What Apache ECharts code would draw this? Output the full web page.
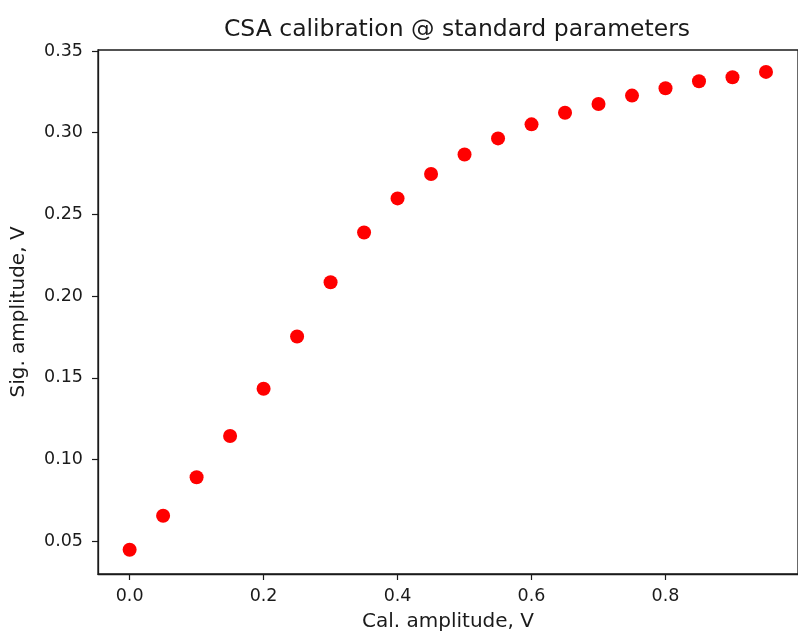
<!DOCTYPE html>
<html>
<head>
<meta charset="utf-8">
<script src="https://cdn.jsdelivr.net/npm/echarts@6/dist/echarts.min.js"></script>
<style>
  html, body { margin: 0; padding: 0; background: #fff; }
  #chart { width: 798px; height: 637px; }
</style>
</head>
<body>
<div id="chart"></div>
<script>
// calibration amplitude (V) vs measured signal amplitude (V)
var calAmp = [0.00, 0.05, 0.10, 0.15, 0.20, 0.25, 0.30, 0.35, 0.40, 0.45,
              0.50, 0.55, 0.60, 0.65, 0.70, 0.75, 0.80, 0.85, 0.90, 0.95];
var sigAmp = [0.0448, 0.0656, 0.0892, 0.1144, 0.1433, 0.1753, 0.2085, 0.2389, 0.2598, 0.2747,
              0.2867, 0.2965, 0.3051, 0.3122, 0.3176, 0.3227, 0.3272, 0.3315, 0.3339, 0.3372];
var xTicks = [0, 0.2, 0.4, 0.6, 0.8];
var yTicks = [0.05, 0.10, 0.15, 0.20, 0.25, 0.30, 0.35];

var points = [];
for (var i = 0; i < calAmp.length; i++) {
    points.push([calAmp[i], sigAmp[i]]);
}

var font = 'DejaVu Sans';
var ink = '#1a1a1a';
var myChart = echarts.init(document.getElementById('chart'));
var option = {
    backgroundColor: '#fff',
    animation: false,
    title: {
        text: 'CSA calibration @ standard parameters',
        left: 452,
        top: 13,
        textAlign: 'center',
        textStyle: { fontFamily: font, fontSize: 23.5, fontWeight: 'normal', color: ink }
    },
    grid: {
        left: 98, top: 50, width: 708, height: 528,
        show: true, borderColor: ink, borderWidth: 1.3, backgroundColor: 'transparent'
    },
    xAxis: {
        type: 'value',
        min: -0.0472,
        max: 0.9978,
        name: 'Cal. amplitude, V',
        nameLocation: 'middle',
        nameGap: 38,
        nameTextStyle: { fontFamily: font, fontSize: 20, color: ink },
        axisLine: { show: true, onZero: false, lineStyle: { color: ink, width: 1.3 } },
        axisTick: { show: true, length: 6, lineStyle: { color: ink, width: 1.2 }, customValues: xTicks },
        axisLabel: {
            margin: 13, fontFamily: font, fontSize: 17.5, color: ink,
            customValues: xTicks,
            formatter: function (v) { return v.toFixed(1); }
        },
        splitLine: { show: false }
    },
    yAxis: {
        type: 'value',
        min: 0.02996,
        max: 0.3506,
        name: 'Sig. amplitude, V',
        nameLocation: 'middle',
        nameGap: 69,
        nameTextStyle: { fontFamily: font, fontSize: 20, color: ink },
        axisLine: { show: true, onZero: false, lineStyle: { color: ink, width: 1.3 } },
        axisTick: { show: true, length: 6, lineStyle: { color: ink, width: 1.2 }, customValues: yTicks },
        axisLabel: {
            margin: 15, fontFamily: font, fontSize: 17.5, color: ink,
            customValues: yTicks,
            formatter: function (v) { return v.toFixed(2); }
        },
        splitLine: { show: false }
    },
    series: [
        {
            type: 'scatter',
            data: points,
            symbol: 'circle',
            symbolSize: 14,
            itemStyle: { color: '#ff0000', opacity: 1 }
        }
    ]
};
myChart.setOption(option);
</script>
</body>
</html>
